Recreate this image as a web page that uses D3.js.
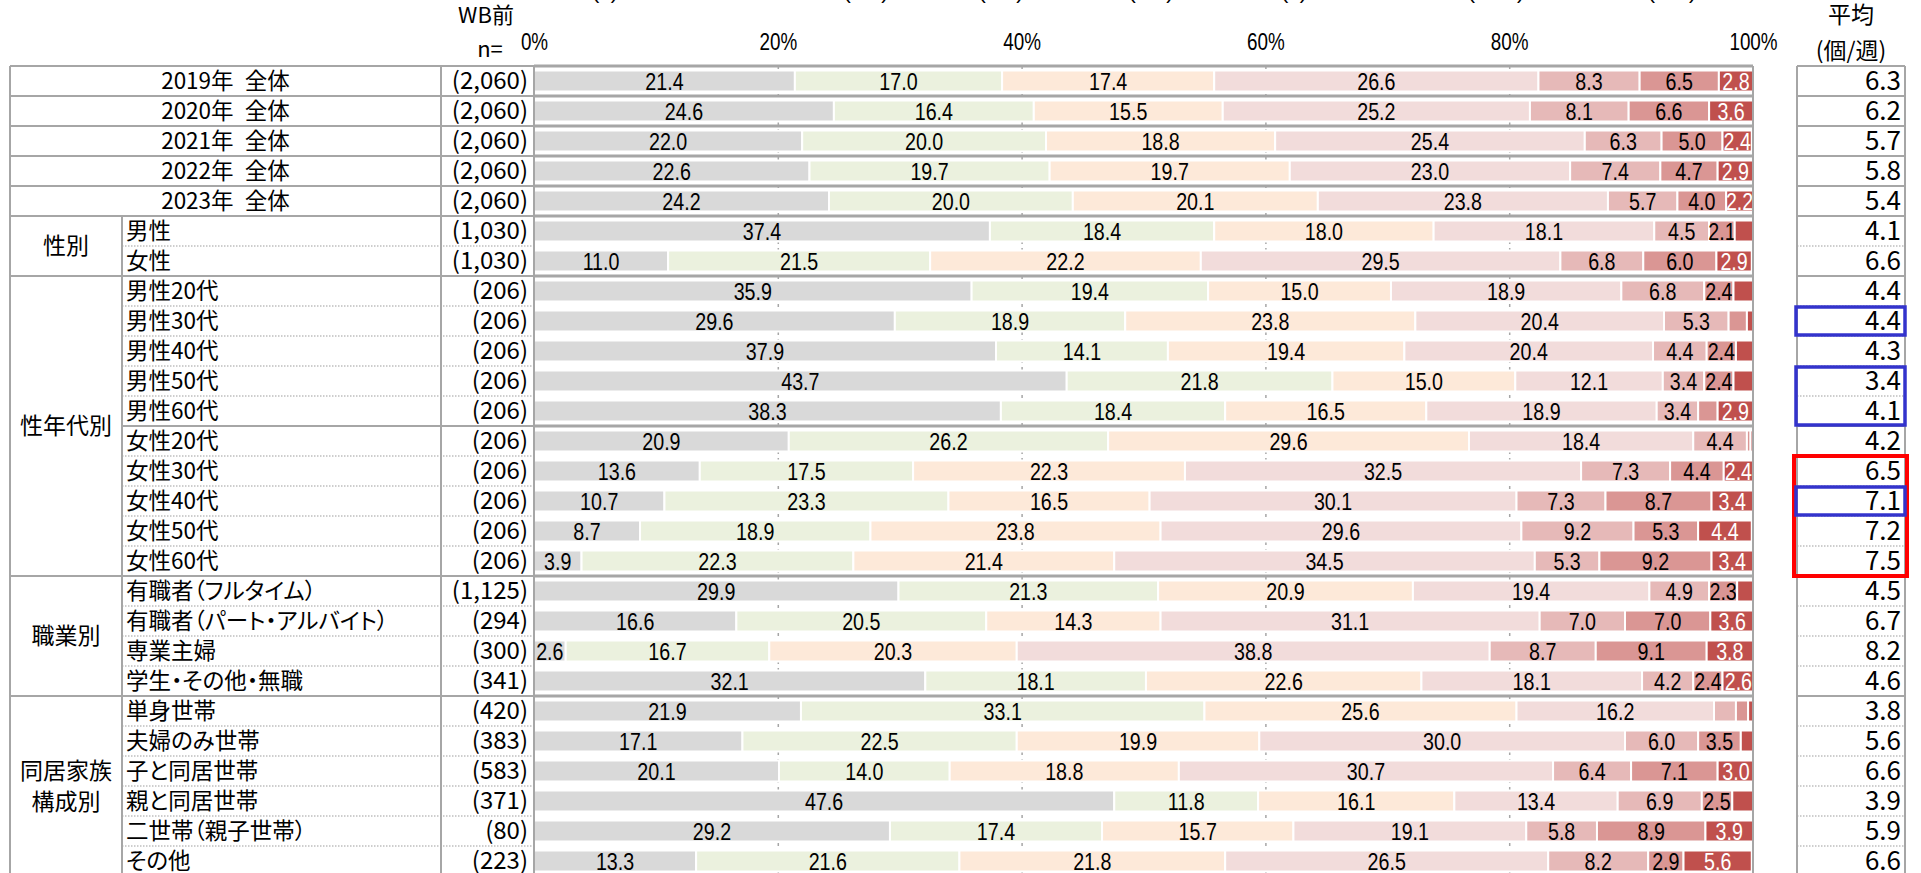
<!DOCTYPE html>
<html>
<head>
<meta charset="utf-8">
<script src="https://cdn.jsdelivr.net/npm/d3@7"></script>
<style>
  body { margin: 0; background: #fff; overflow: hidden; }
  svg { display: block; }
  .jp { font-family: "Noto Sans CJK JP", "Noto Sans", sans-serif; font-feature-settings: "palt"; fill: #000; }
  .num { font-family: "Liberation Sans", Arial, sans-serif; }
</style>
</head>
<body>
<div id="chart"></div>
<script>
// ---- data ----
const rowLabels = [
  '2019年\u2002全体', '2020年\u2002全体', '2021年\u2002全体', '2022年\u2002全体', '2023年\u2002全体',
  '男性', '女性',
  '男性20代', '男性30代', '男性40代', '男性50代', '男性60代',
  '女性20代', '女性30代', '女性40代', '女性50代', '女性60代',
  '有職者（フルタイム）', '有職者（パート・アルバイト）', '専業主婦', '学生・その他・無職',
  '単身世帯', '夫婦のみ世帯', '子と同居世帯', '親と同居世帯', '二世帯（親子世帯）', 'その他'
];
const groupLabels = [[], ['性別'], ['性年代別'], ['職業別'], ['同居家族', '構成別']];
const groupSizes = [5, 2, 10, 4, 6];
const nValues = [2060, 2060, 2060, 2060, 2060, 1030, 1030,
  206, 206, 206, 206, 206, 206, 206, 206, 206, 206,
  1125, 294, 300, 341, 420, 383, 583, 371, 80, 223];
const averages = [6.3, 6.2, 5.7, 5.8, 5.4, 4.1, 6.6,
  4.4, 4.4, 4.3, 3.4, 4.1, 4.2, 6.5, 7.1, 7.2, 7.5,
  4.5, 6.7, 8.2, 4.6, 3.8, 5.6, 6.6, 3.9, 5.9, 6.6];

const s1 = [21.4, 24.6, 22.0, 22.6, 24.2, 37.4, 11.0, 35.9, 29.6, 37.9, 43.7, 38.3, 20.9, 13.6, 10.7, 8.7, 3.9, 29.9, 16.6, 2.6, 32.1, 21.9, 17.1, 20.1, 47.6, 29.2, 13.3];
const s2 = [17.0, 16.4, 20.0, 19.7, 20.0, 18.4, 21.5, 19.4, 18.9, 14.1, 21.8, 18.4, 26.2, 17.5, 23.3, 18.9, 22.3, 21.3, 20.5, 16.7, 18.1, 33.1, 22.5, 14.0, 11.8, 17.4, 21.6];
const s3 = [17.4, 15.5, 18.8, 19.7, 20.1, 18.0, 22.2, 15.0, 23.8, 19.4, 15.0, 16.5, 29.6, 22.3, 16.5, 23.8, 21.4, 20.9, 14.3, 20.3, 22.6, 25.6, 19.9, 18.8, 16.1, 15.7, 21.8];
const s4 = [26.6, 25.2, 25.4, 23.0, 23.8, 18.1, 29.5, 18.9, 20.4, 20.4, 12.1, 18.9, 18.4, 32.5, 30.1, 29.6, 34.5, 19.4, 31.1, 38.8, 18.1, 16.2, 30.0, 30.7, 13.4, 19.1, 26.5];
const s5 = [8.3, 8.1, 6.3, 7.4, 5.7, 4.5, 6.8, 6.8, 5.3, 4.4, 3.4, 3.4, 4.4, 7.3, 7.3, 9.2, 5.3, 4.9, 7.0, 8.7, 4.2, 1.8, 6.0, 6.4, 6.9, 5.8, 8.2];
const s6 = [6.5, 6.6, 5.0, 4.7, 4.0, 2.1, 6.0, 2.4, 1.5, 2.4, 2.4, 1.6, 0.3, 4.4, 8.7, 5.3, 9.2, 2.3, 7.0, 9.1, 2.4, 1.0, 3.5, 7.1, 2.5, 8.9, 2.9];
const s7 = [2.8, 3.6, 2.4, 2.9, 2.2, 1.5, 2.9, 1.6, 0.5, 1.4, 1.6, 2.9, 0.2, 2.4, 3.4, 4.4, 3.4, 1.3, 3.6, 3.8, 2.6, 0.4, 1.0, 3.0, 1.7, 3.9, 5.6];
const series = [s1, s2, s3, s4, s5, s6, s7];
const seriesColors = ['#d9d9d9', '#ebf1de', '#fde9d9', '#f2dcdb', '#e6b9b8', '#da9694', '#c0504d'];

const tickValues = [0, 20, 40, 60, 80, 100];
const blueBoxes = [[8, 8], [10, 11], [14, 14]];
const redBoxes = [[13, 16]];
// legend sits above the picture, only its lower edge shows
const legendLabels = ['(0)', '(1-2)', '(3-4)', '(5-6)', '(7)', '(8-10)', '(11+)'];
const legendX = [605, 866, 1001, 1151, 1294, 1496, 1672];

// ---- layout ----
const W = 1921, H = 873;
const topY = 66, rowH = 30;
const nRows = rowLabels.length;
const col = {left: 10, group: 122, n: 441, plotL: 534, plotR: 1753, avgL: 1797, avgR: 1905};
const lineColor = '#a6a6a6';
const squeeze = 0.82; // narrow look for the numbers

const svg = d3.select('#chart').append('svg')
  .attr('width', W)
  .attr('height', H);

const x = d3.scaleLinear().domain([0, 100]).range([col.plotL, col.plotR]);
const y = d3.scaleBand()
  .domain(d3.range(nRows))
  .range([topY, topY + rowH * nRows])
  .paddingInner(0.3)
  .paddingOuter(0.15);
const edge = d3.scaleLinear().domain([0, nRows]).range([topY, topY + rowH * nRows]);
const mid = i => edge(i + 0.5);

// group starts
let starts = [], acc = 0;
groupSizes.forEach(s => { starts.push(acc); acc += s; });

// dashed grid
const grid = svg.append('g')
  .attr('transform', `translate(0,${topY})`)
  .call(d3.axisTop(x).tickValues([20, 40, 60, 80]).tickSize(-(H - topY)).tickFormat(''));
grid.select('.domain').remove();
grid.selectAll('text').remove();
grid.selectAll('line').attr('stroke', lineColor).attr('stroke-width', 1.5).attr('stroke-dasharray', '3,4');

// stacked bars
const keys = series.map((d, i) => 'k' + i);
const table = d3.range(nRows).map(r => {
  let o = {row: r};
  series.forEach((s, i) => { o['k' + i] = s[r]; });
  return o;
});
const stacked = d3.stack().keys(keys)(table);

const layers = svg.append('g').selectAll('g')
  .data(stacked)
  .join('g')
  .attr('fill', (d, i) => seriesColors[i]);

layers.selectAll('rect')
  .data(d => d)
  .join('rect')
  .attr('x', d => x(d[0]))
  .attr('y', d => y(d.data.row))
  .attr('width', d => Math.max(0, x(d[1]) - x(d[0])))
  .attr('height', y.bandwidth())
  .attr('stroke', '#fff')
  .attr('stroke-width', 2);

layers.selectAll('text')
  .data((d, i) => d.map(v => ({v, si: i})).filter(o => o.v.data['k' + o.si] >= 2))
  .join('text')
  .attr('class', 'num')
  .attr('transform', o => `translate(${(x(o.v[0]) + x(o.v[1])) / 2},${y(o.v.data.row) + y.bandwidth() / 2}) scale(${squeeze},1)`)
  .attr('dy', '0.36em')
  .attr('text-anchor', 'middle')
  .attr('font-size', 24)
  .attr('fill', o => o.si === 6 ? '#fff' : '#000')
  .text(o => d3.format('.1f')(o.v.data['k' + o.si]));

// axis labels
const axis = svg.append('g')
  .attr('transform', 'translate(0,50)')
  .call(d3.axisTop(x).tickValues(tickValues).tickSize(0).tickPadding(0).tickFormat(d => d + '%'));
axis.select('.domain').remove();
axis.selectAll('text')
  .attr('class', 'num')
  .attr('font-size', 23)
  .attr('fill', '#000')
  .attr('transform', `scale(${squeeze},1)`);

// cut-off legend
svg.append('g').selectAll('text')
  .data(legendLabels)
  .join('text')
  .attr('class', 'num')
  .attr('x', (d, i) => legendX[i])
  .attr('y', -1)
  .attr('text-anchor', 'middle')
  .attr('font-size', 21)
  .text(d => d);

// headers
svg.append('text').attr('class', 'jp').attr('x', 486).attr('y', 23).attr('text-anchor', 'middle').attr('font-size', 22).text('WB前');
svg.append('text').attr('class', 'jp').attr('x', 490).attr('y', 57).attr('text-anchor', 'middle').attr('font-size', 22).text('n=');
svg.append('text').attr('class', 'jp').attr('x', 1851).attr('y', 23).attr('text-anchor', 'middle').attr('font-size', 23).text('平均');
svg.append('text').attr('class', 'jp').attr('x', 1851).attr('y', 59).attr('text-anchor', 'middle').attr('font-size', 23).text('(個/週)');

// row labels
svg.append('g').selectAll('text')
  .data(rowLabels)
  .join('text')
  .attr('class', 'jp')
  .attr('x', (d, i) => i < groupSizes[0] ? (col.left + col.n) / 2 : col.group + 4)
  .attr('y', (d, i) => mid(i))
  .attr('dy', '0.35em')
  .attr('text-anchor', (d, i) => i < groupSizes[0] ? 'middle' : 'start')
  .attr('font-size', 22.5)
  .text(d => d);

// group labels
groupLabels.forEach((lines, g) => {
  if (!lines.length) return;
  const c = edge(starts[g] + groupSizes[g] / 2);
  lines.forEach((t, k) => {
    svg.append('text').attr('class', 'jp')
      .attr('x', (col.left + col.group) / 2)
      .attr('y', c + (k - (lines.length - 1) / 2) * 31)
      .attr('dy', '0.35em')
      .attr('text-anchor', 'middle')
      .attr('font-size', 23)
      .text(t);
  });
});

// n values
svg.append('g').selectAll('text')
  .data(nValues)
  .join('text')
  .attr('class', 'jp')
  .attr('x', col.plotL - 6)
  .attr('y', (d, i) => mid(i))
  .attr('dy', '0.35em')
  .attr('text-anchor', 'end')
  .attr('font-size', 24)
  .text(d => '(' + d3.format(',')(d) + ')');

// averages
svg.append('g').selectAll('text')
  .data(averages)
  .join('text')
  .attr('class', 'jp')
  .attr('x', col.avgR - 4)
  .attr('y', (d, i) => mid(i))
  .attr('dy', '0.36em')
  .attr('text-anchor', 'end')
  .attr('font-size', 26)
  .text(d => d3.format('.1f')(d));

// ---- table lines ----
const lines = svg.append('g').attr('fill', 'none');
const solidLine = (x1, x2, yy, w) => lines.append('line')
  .attr('x1', x1).attr('x2', x2).attr('y1', yy).attr('y2', yy)
  .attr('stroke', lineColor).attr('stroke-width', w || 2);
const dotLine = (x1, x2, yy) => lines.append('line')
  .attr('x1', x1).attr('x2', x2).attr('y1', yy).attr('y2', yy)
  .attr('stroke', '#bfbfbf').attr('stroke-width', 1.5).attr('stroke-dasharray', '1.5,1.5');
const vLine = (xx, y1, y2) => lines.append('line')
  .attr('x1', xx).attr('x2', xx).attr('y1', y1).attr('y2', y2)
  .attr('stroke', lineColor).attr('stroke-width', 2);

const bottomY = edge(nRows);
// top border
solidLine(col.left, col.plotL, topY);
solidLine(col.plotL, col.plotR, topY, 3);
solidLine(col.avgL, col.avgR, topY);

for (let b = 1; b < nRows; b++) {
  const yy = edge(b);
  const isTop = b <= groupSizes[0];
  const isGroup = starts.includes(b);
  const isSub = b === 12;
  if (isTop || isGroup) {
    solidLine(col.left, col.plotL, yy);
    solidLine(col.plotL, col.plotR, yy, 3);
    solidLine(col.avgL, col.avgR, yy);
  } else if (isSub) {
    solidLine(col.group, col.plotL, yy);
    solidLine(col.plotL, col.plotR, yy, 3);
    solidLine(col.avgL, col.avgR, yy);
  } else {
    dotLine(col.group, col.plotL, yy);
    dotLine(col.avgL, col.avgR, yy);
  }
}
vLine(col.left, topY, bottomY);
vLine(col.group, edge(groupSizes[0]), bottomY);
vLine(col.n, topY, bottomY);
vLine(col.plotL, topY, bottomY);
vLine(col.plotR, topY, bottomY);
vLine(col.avgL, topY, bottomY);
vLine(col.avgR, topY, bottomY);

// highlight boxes
const boxes = svg.append('g').attr('fill', 'none');
boxes.selectAll('rect.red')
  .data(redBoxes)
  .join('rect')
  .attr('class', 'red')
  .attr('x', col.avgL - 3).attr('width', col.avgR - col.avgL + 5)
  .attr('y', d => edge(d[0])).attr('height', d => edge(d[1] + 1) - edge(d[0]))
  .attr('stroke', '#ff0000').attr('stroke-width', 4);
boxes.selectAll('rect.blue')
  .data(blueBoxes)
  .join('rect')
  .attr('class', 'blue')
  .attr('x', col.avgL - 1).attr('width', col.avgR - col.avgL + 1)
  .attr('y', d => edge(d[0]) + 1).attr('height', d => edge(d[1] + 1) - edge(d[0]) - 2)
  .attr('stroke', '#3333cc').attr('stroke-width', 3.5);
</script>
</body>
</html>
